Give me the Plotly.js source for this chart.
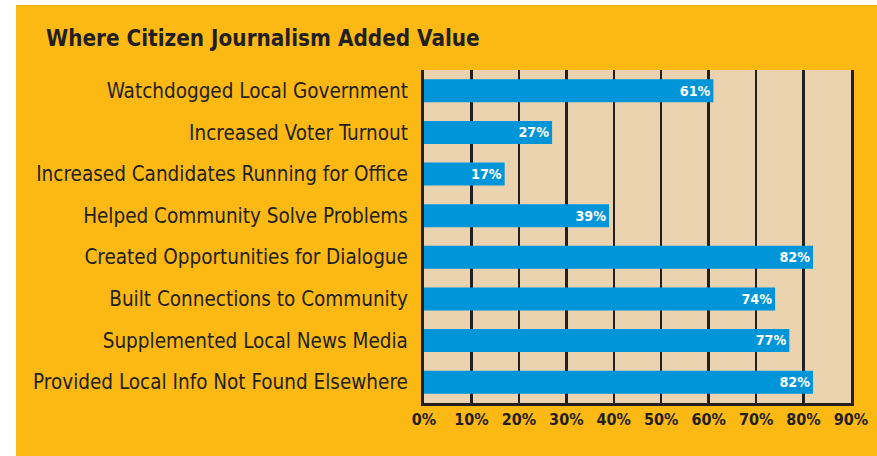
<!DOCTYPE html>
<html>
<head>
<meta charset="utf-8">
<script src="https://cdn.plot.ly/plotly-3.0.1.min.js"></script>
<style>
html,body{margin:0;padding:0;background:#ffffff;}
#chart{position:absolute;left:16px;top:5px;width:861px;height:451px;}
</style>
</head>
<body>
<div id="chart"></div>
<script>
const categories = [
  "Watchdogged Local Government",
  "Increased Voter Turnout",
  "Increased Candidates Running for Office",
  "Helped Community Solve Problems",
  "Created Opportunities for Dialogue",
  "Built Connections to Community",
  "Supplemented Local News Media",
  "Provided Local Info Not Found Elsewhere"
];
const values = [61, 27, 17, 39, 82, 74, 77, 82];
const tickVals = [0, 10, 20, 30, 40, 50, 60, 70, 80, 90];
const tickText = ["0%", "10%", "20%", "30%", "40%", "50%", "60%", "70%", "80%", "90%"];

const dark = "#231f20";
const narrow = "'Liberation Sans Narrow', 'DejaVu Sans Condensed', 'DejaVu Sans', sans-serif";

const trace = {
  type: "bar",
  orientation: "h",
  y: categories,
  x: values,
  width: 0.55,
  marker: {color: "#0095d9"},
  text: values.map(v => v + "%"),
  textposition: "inside",
  insidetextanchor: "end",
  textangle: 0,
  insidetextfont: {family: narrow, size: 16, color: "#ffffff", weight: "bold", stretch: "condensed"},
  hoverinfo: "none",
  cliponaxis: false
};

const layout = {
  width: 861,
  height: 451,
  paper_bgcolor: "#fdb913",
  plot_bgcolor: "#ead3ae",
  margin: {l: 408, r: 26, t: 65, b: 53},
  showlegend: false,
  bargap: 0.45,
  title: {
    text: "Where Citizen Journalism Added Value",
    font: {family: narrow, size: 22.3, color: dark, weight: "bold", stretch: "condensed"},
    x: 30 / 861, xanchor: "left", xref: "container",
    y: 1 - 33 / 451, yanchor: "middle", yref: "container"
  },
  xaxis: {
    range: [0, 90],
    tickvals: tickVals,
    ticktext: tickText,
    tickfont: {family: narrow, size: 16, color: dark, weight: "bold", stretch: "condensed"},
    showgrid: true,
    gridcolor: dark,
    gridwidth: 2.5,
    showline: true,
    linecolor: dark,
    linewidth: 3,
    zeroline: false,
    ticks: "",
    fixedrange: true
  },
  yaxis: {
    autorange: "reversed",
    tickfont: {family: narrow, size: 20.5, color: dark, stretch: "condensed"},
    showline: true,
    mirror: true,
    linecolor: dark,
    linewidth: 3,
    showgrid: false,
    ticks: "",
    ticklabelstandoff: 9,
    fixedrange: true
  }
};

Plotly.newPlot("chart", [trace], layout, {displayModeBar: false, staticPlot: true});
</script>
</body>
</html>
